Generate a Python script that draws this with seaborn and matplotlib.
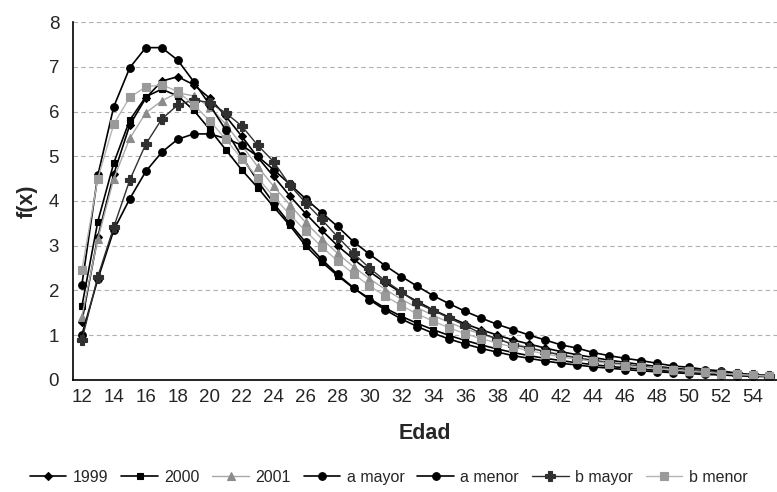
import numpy as np
import pandas as pd
import matplotlib
matplotlib.use("Agg")
import matplotlib.pyplot as plt
import seaborn as sns

# Ages on the x axis (category axis 12..55)
edad = list(range(12, 56))
x_ticks = list(range(12, 56, 2))

# f(x) values
f_1999 = [1.30, 3.20, 4.60, 5.70, 6.30, 6.68, 6.78, 6.60, 6.30, 5.90, 5.45, 4.98, 4.55, 4.12,
          3.72, 3.35, 3.00, 2.70, 2.42, 2.17, 1.95, 1.75, 1.56, 1.40, 1.25, 1.12, 1.00, 0.89,
          0.80, 0.71, 0.63, 0.56, 0.50, 0.44, 0.39, 0.34, 0.30, 0.26, 0.23, 0.20, 0.17, 0.14,
          0.12, 0.10]
f_2000 = [1.64, 3.54, 4.85, 5.81, 6.33, 6.50, 6.35, 6.03, 5.60, 5.15, 4.70, 4.30, 3.87, 3.46,
          3.00, 2.64, 2.33, 2.05, 1.82, 1.60, 1.42, 1.26, 1.12, 0.99, 0.88, 0.78, 0.69, 0.61,
          0.54, 0.48, 0.43, 0.38, 0.34, 0.30, 0.27, 0.24, 0.21, 0.19, 0.17, 0.15, 0.13, 0.11,
          0.10, 0.08]
f_2001 = [1.41, 3.15, 4.50, 5.40, 5.97, 6.24, 6.42, 6.35, 6.10, 5.72, 5.25, 4.77, 4.33, 3.92,
          3.52, 3.16, 2.83, 2.53, 2.26, 2.02, 1.80, 1.61, 1.44, 1.28, 1.14, 1.02, 0.91, 0.81,
          0.72, 0.64, 0.57, 0.50, 0.45, 0.40, 0.35, 0.31, 0.27, 0.24, 0.21, 0.18, 0.16, 0.13,
          0.11, 0.09]
a_mayor = [2.12, 4.57, 6.11, 6.98, 7.43, 7.43, 7.15, 6.67, 6.15, 5.59, 5.00, 4.45, 3.95, 3.50,
           3.08, 2.70, 2.36, 2.06, 1.79, 1.56, 1.36, 1.19, 1.04, 0.91, 0.80, 0.70, 0.62, 0.54,
           0.48, 0.42, 0.37, 0.33, 0.29, 0.26, 0.23, 0.20, 0.18, 0.16, 0.14, 0.12, 0.11, 0.09,
           0.08, 0.07]
a_menor = [1.00, 2.25, 3.35, 4.05, 4.66, 5.09, 5.38, 5.50, 5.50, 5.40, 5.25, 5.00, 4.70, 4.38,
           4.05, 3.74, 3.43, 3.09, 2.81, 2.55, 2.31, 2.09, 1.88, 1.70, 1.53, 1.38, 1.24, 1.12,
           1.00, 0.89, 0.78, 0.71, 0.61, 0.54, 0.48, 0.43, 0.37, 0.31, 0.28, 0.23, 0.20, 0.15,
           0.10, 0.09]
b_mayor = [0.89, 2.31, 3.42, 4.47, 5.27, 5.83, 6.15, 6.26, 6.20, 5.97, 5.68, 5.25, 4.88, 4.36,
           3.96, 3.59, 3.20, 2.83, 2.50, 2.21, 1.97, 1.71, 1.55, 1.38, 1.21, 1.04, 0.92, 0.78,
           0.71, 0.63, 0.55, 0.49, 0.43, 0.38, 0.34, 0.30, 0.26, 0.23, 0.20, 0.17, 0.15, 0.12,
           0.10, 0.08]
b_menor = [2.45, 4.50, 5.72, 6.32, 6.55, 6.60, 6.45, 6.15, 5.80, 5.38, 4.95, 4.52, 4.10, 3.70,
           3.33, 2.98, 2.66, 2.37, 2.10, 1.87, 1.66, 1.47, 1.31, 1.16, 1.03, 0.92, 0.82, 0.73,
           0.65, 0.58, 0.51, 0.46, 0.41, 0.36, 0.32, 0.28, 0.25, 0.22, 0.19, 0.17, 0.14, 0.12,
           0.10, 0.08]

series_names = ["1999", "2000", "2001", "a mayor", "a menor", "b mayor", "b menor"]
series_values = [f_1999, f_2000, f_2001, a_mayor, a_menor, b_mayor, b_menor]

# Long-form table for seaborn
df = pd.DataFrame({
    "edad": np.tile(edad, len(series_names)),
    "fx": np.concatenate(series_values),
    "serie": np.repeat(series_names, len(edad)),
})

styles = {
    "1999":    dict(color="black",   marker="D", ms=4.5, lw=1.2, mfc="black"),
    "2000":    dict(color="black",   marker="s", ms=5,   lw=1.2, mfc="black"),
    "2001":    dict(color="#a8a8a8", marker="^", ms=5.5, lw=1.0, mfc="#8c8c8c"),
    "a mayor": dict(color="black",   marker="o", ms=5.5, lw=1.2, mfc="black"),
    "a menor": dict(color="black",   marker="o", ms=5.5, lw=1.2, mfc="black"),
    "b mayor": dict(color="#303030", marker="P", ms=7,   lw=1.0, mfc="#303030"),
    "b menor": dict(color="#b4b4b4", marker="s", ms=6,   lw=1.0, mfc="#9a9a9a"),
}

sns.set_style("white")
plt.rcParams["font.family"] = ["Liberation Sans", "DejaVu Sans"]

fig = plt.figure(figsize=(7.77, 4.92), dpi=100)
ax = fig.add_axes([0.094, 0.228, 0.906, 0.727])

for name in series_names:
    st = styles[name]
    sub = df[df["serie"] == name]
    sns.lineplot(data=sub, x="edad", y="fx", ax=ax, label=name, color=st["color"],
                 marker=st["marker"], markersize=st["ms"], linewidth=st["lw"],
                 markerfacecolor=st["mfc"], markeredgecolor=st["mfc"], markeredgewidth=0.8)

ax.set_xlim(11.45, 55.5)
ax.set_ylim(0, 8)
ax.set_yticks(range(0, 9))
ax.set_xticks(x_ticks)
ax.tick_params(axis="both", labelsize=13.5, length=3, color="black")
ax.tick_params(axis="y", length=0, pad=10)
ax.yaxis.grid(True, color="#b0b0b0", linestyle=(0, (4, 3)), linewidth=0.8)
ax.set_axisbelow(True)

for side in ["top", "right"]:
    ax.spines[side].set_visible(False)
for side in ["left", "bottom"]:
    ax.spines[side].set_color("black")
    ax.spines[side].set_linewidth(1.2)

ax.set_xlabel("Edad", fontsize=15.5, fontweight="bold", labelpad=12)
ax.set_ylabel("f(x)", fontsize=15.5, fontweight="bold", labelpad=8)

ax.legend_.remove()
handles, labels = ax.get_legend_handles_labels()
fig.legend(handles, labels, loc="lower center", bbox_to_anchor=(0.5, -0.015), ncol=7,
           frameon=False, fontsize=11.5, handlelength=2.3, handletextpad=0.4,
           columnspacing=0.8)

fig.savefig("out.png", dpi=100)
